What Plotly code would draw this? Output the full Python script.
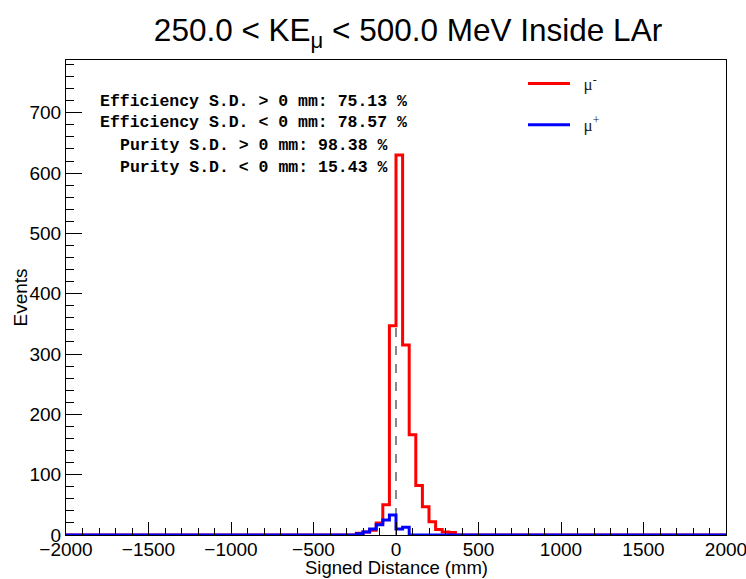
import plotly.graph_objects as go

# ---- data (40 mm bins, only the populated window is listed; all other bins are 0)
bin_width = 40
x_min, x_max = -2000, 2000
window_start = -240  # lower edge of first listed bin
mu_minus_counts = [3, 5, 8, 20, 50, 347, 630, 315, 166, 82, 47, 22, 9, 5, 4]
mu_plus_counts = [2, 5, 10, 17, 25, 33, 10, 13, 0, 0, 0, 0, 0, 0, 0]

title_text = "250.0 < KE<sub>μ</sub> < 500.0 MeV Inside LAr"
x_title = "Signed Distance (mm)"
y_title = "Events"
stats_lines = [
    "Efficiency S.D. > 0 mm: 75.13 %",
    "Efficiency S.D. < 0 mm: 78.57 %",
    "Purity S.D. > 0 mm: 98.38 %",
    "Purity S.D. < 0 mm: 15.43 %",
]
series_names = ["\u2002μ<sup>-</sup>", "\u2002μ<sup>+</sup>"]
series_colors = ["#ff0000", "#0000ff"]

# ---- build full histograms
n_bins = (x_max - x_min) // bin_width
edges = [x_min + i * bin_width for i in range(n_bins + 1)]


def full_hist(window):
    h = [0] * n_bins
    start = (window_start - x_min) // bin_width
    for i, v in enumerate(window):
        h[start + i] = v
    return h


def step_xy(counts):
    xs = edges[:]
    ys = counts + [counts[-1]]
    return xs, ys


fig = go.Figure()
for name, counts, col, grp in zip(series_names, [mu_minus_counts, mu_plus_counts], series_colors, ["a", "b"]):
    xs, ys = step_xy(full_hist(counts))
    fig.add_trace(go.Scatter(x=xs, y=ys, mode="lines", line=dict(color=col, width=3, shape="hv"),
                             name=name, legendgroup=grp))

ymax_data = max(mu_minus_counts)
fig.add_shape(type="line", x0=0, x1=0, y0=0, y1=ymax_data, xref="x", yref="y",
              line=dict(color="#111111", width=1, dash="dash"), layer="below")

W, H = 746, 579
L, R, T, B = 66, 20, 60, 44
pw, ph = W - L - R, H - T - B

sans = "Liberation Sans, Arial, sans-serif"
axis_font = dict(family=sans, size=19, color="black")

fig.update_layout(
    width=W, height=H,
    margin=dict(l=L, r=R, t=T, b=B, autoexpand=False),
    paper_bgcolor="white", plot_bgcolor="white",
    title=dict(text=title_text, x=408 / W, xref="container", xanchor="center",
               y=1 - 30 / H, yref="container", yanchor="middle",
               font=dict(family=sans, size=31.5, color="black")),
    showlegend=True,
    legend=dict(x=(523 - L) / pw, y=(535 - 66) / ph, xanchor="left", yanchor="top",
                bgcolor="rgba(0,0,0,0)", borderwidth=0, traceorder="grouped", tracegroupgap=16,
                itemwidth=42,
                font=dict(family="Liberation Serif, Times New Roman, serif", size=17, color="#222222")),
    xaxis=dict(range=[x_min, x_max], showgrid=False, zeroline=False, showline=True, linecolor="black",
               linewidth=1, mirror=True, ticks="inside", ticklen=13, tickcolor="black", dtick=500,
               tick0=0, tickfont=axis_font, automargin=False, ticklabeloverflow="allow",
               ticklabelstandoff=-3,
               minor=dict(ticks="inside", ticklen=7, dtick=100, tickcolor="black", showgrid=False)),
    yaxis=dict(range=[0, 1.25 * ymax_data], showgrid=False, zeroline=False, showline=True,
               linecolor="black", linewidth=1, mirror=True, ticks="inside", ticklen=16, tickcolor="black",
               dtick=100, tick0=0, tickfont=axis_font, automargin=False, ticklabeloverflow="allow",
               minor=dict(ticks="inside", ticklen=8, dtick=20, tickcolor="black", showgrid=False)),
)

fig.add_annotation(text=y_title, textangle=-90, xref="paper", yref="paper",
                   x=(20 - L) / pw, y=0.5, xanchor="center", yanchor="middle", showarrow=False,
                   font=dict(family=sans, size=19, color="black"))
fig.add_annotation(text=x_title, xref="paper", yref="paper",
                   x=(396 - L) / pw, y=(535 - 567) / ph, xanchor="center", yanchor="middle",
                   showarrow=False, font=dict(family=sans, size=18.5, color="black"))

line_centers = [101, 122, 145, 167]
for txt, yc in zip(stats_lines, line_centers):
    fig.add_annotation(text="<b>" + txt + "</b>", xref="paper", yref="paper",
                       x=(253 - L) / pw, y=(535 - yc) / ph, xanchor="center", yanchor="middle",
                       showarrow=False,
                       font=dict(family="Liberation Mono, Courier New, monospace", size=16.5, color="black"))

fig.write_html("out.html", post_script="document.body.style.margin='0';",
               config={"displayModeBar": False})
